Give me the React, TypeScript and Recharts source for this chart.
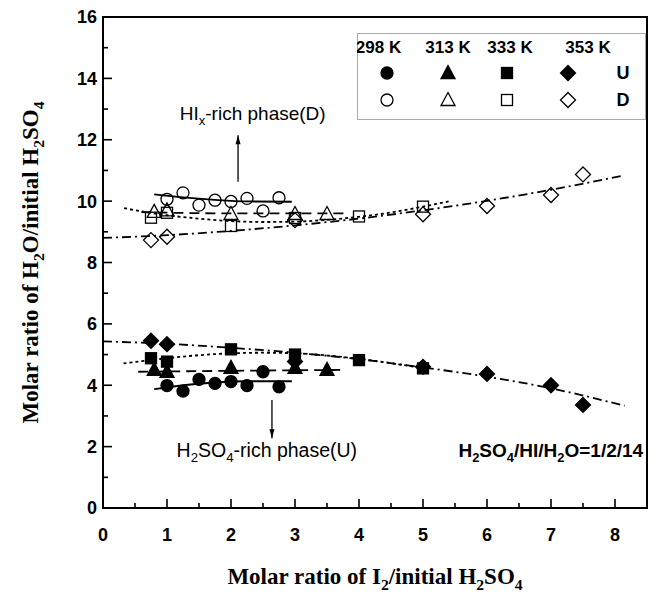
import React from "react";
import {
  ComposedChart,
  Line,
  Scatter,
  XAxis,
  YAxis,
  ReferenceArea,
  ReferenceDot,
  Legend,
} from "recharts";

// legend header
const temps = ["298 K", "313 K", "333 K", "353 K"];

// measured points (x = I2 / initial H2SO4)
const x298 = [1, 1.25, 1.5, 1.75, 2, 2.25, 2.5, 2.75];
const d298 = [10.06, 10.27, 9.87, 10.03, 9.99, 10.09, 9.68, 10.11];
const u298 = [3.99, 3.81, 4.19, 4.06, 4.12, 3.99, 4.44, 3.95];

const x313 = [0.8, 1, 2, 3, 3.5];
const d313 = [9.65, 9.7, 9.58, 9.58, 9.58];
const u313 = [4.5, 4.44, 4.57, 4.57, 4.5];

const x333 = [0.75, 1, 2, 3, 4, 5];
const d333 = [9.46, 9.62, 9.19, 9.45, 9.5, 9.82];
const u333 = [4.88, 4.77, 5.17, 5.0, 4.82, 4.55];

const x353 = [0.75, 1, 3, 5, 6, 7, 7.5];
const d353 = [8.73, 8.84, 9.38, 9.57, 9.84, 10.2, 10.87];
const u353 = [5.45, 5.34, 4.77, 4.6, 4.37, 4.0, 3.36];

// fitted curves
const fx298 = [0.8, 1.25, 1.75, 2.25, 2.95];
const fd298 = [10.22, 10.12, 10.04, 9.99, 9.98];
const fu298 = [3.87, 4.0, 4.09, 4.13, 4.13];

const fxd313 = [0.6, 2, 3.8];
const fd313 = [9.64, 9.6, 9.6];
const fxu313 = [0.55, 2, 3.8];
const fu313 = [4.44, 4.47, 4.5];

const fxd333 = [0.33, 1, 1.5, 2, 2.5, 3, 3.5, 4, 4.5, 5, 5.4];
const fd333 = [9.77, 9.54, 9.43, 9.35, 9.32, 9.33, 9.39, 9.49, 9.63, 9.82, 9.99];
const fxu333 = [0.32, 1, 1.5, 2, 2.5, 3, 3.5, 4, 4.5, 5];
const fu333 = [4.71, 4.88, 4.98, 5.04, 5.06, 5.04, 4.97, 4.86, 4.72, 4.55];

const fx353 = [0, 1, 2, 3, 4, 5, 6, 7, 8.15];
const fd353 = [8.8, 8.89, 9.03, 9.21, 9.43, 9.7, 10.01, 10.37, 10.84];
const fu353 = [5.43, 5.35, 5.22, 5.06, 4.85, 4.58, 4.28, 3.9, 3.33];

// annotation arrows
const arrowDX = [2.11, 2.11];
const arrowDY = [10.63, 12.15];
const arrowUX = [2.64, 2.64];
const arrowUY = [3.52, 2.27];

const xTicks = [0, 0.5, 1, 1.5, 2, 2.5, 3, 3.5, 4, 4.5, 5, 5.5, 6, 6.5, 7, 7.5, 8, 8.5];
const yTicks = [0, 1, 2, 3, 4, 5, 6, 7, 8, 9, 10, 11, 12, 13, 14, 15, 16];

const pts = (xs: number[], ys: number[]) => xs.map((x, i) => ({ x, y: ys[i] }));

const SANS = "'Liberation Sans', Arial, sans-serif";
const SERIF = "'Liberation Serif', 'Times New Roman', serif";
const TM = 6;

type Kind = "circle" | "triangle" | "square" | "diamond";
const kinds: Kind[] = ["circle", "triangle", "square", "diamond"];

const Marker = ({ cx, cy, kind, filled }: { cx: number; cy: number; kind: Kind; filled: boolean }) => {
  const fill = filled ? "#000" : "none";
  const sw = 1.3;
  if (kind === "circle") return <circle cx={cx} cy={cy} r={6} fill={fill} stroke="#000" strokeWidth={sw} />;
  if (kind === "triangle")
    return (
      <polygon
        points={`${cx},${cy - 7.5} ${cx + 7},${cy + 5.5} ${cx - 7},${cy + 5.5}`}
        fill={fill}
        stroke="#000"
        strokeWidth={sw}
      />
    );
  if (kind === "square")
    return <rect x={cx - 5.5} y={cy - 5.5} width={11} height={11} fill={fill} stroke="#000" strokeWidth={sw} />;
  return (
    <polygon
      points={`${cx},${cy - 7.5} ${cx + 7.5},${cy} ${cx},${cy + 7.5} ${cx - 7.5},${cy}`}
      fill={fill}
      stroke="#000"
      strokeWidth={sw}
    />
  );
};

// text with subscripts: [text, isSub]
type Part = [string, boolean?];
const Rich = ({ parts, size, shift }: { parts: Part[]; size: number; shift: number }) => {
  let prevSub = false;
  return (
    <>
      {parts.map(([t, sub], i) => {
        let dy = 0;
        if (sub && !prevSub) dy = shift;
        if (!sub && prevSub) dy = -shift;
        prevSub = !!sub;
        return (
          <tspan key={i} dy={dy} fontSize={sub ? size * 0.68 : size}>
            {t}
          </tspan>
        );
      })}
    </>
  );
};

const xTitle: Part[] = [["Molar ratio of I"], ["2", true], ["/initial H"], ["2", true], ["SO"], ["4", true]];
const yTitle: Part[] = [["Molar ratio of H"], ["2", true], ["O/initial H"], ["2", true], ["SO"], ["4", true]];
const noteD: Part[] = [["HI"], ["x", true], ["-rich phase(D)"]];
const noteU: Part[] = [["H"], ["2", true], ["SO"], ["4", true], ["-rich phase(U)"]];
const noteR: Part[] = [["H"], ["2", true], ["SO"], ["4", true], ["/HI/H"], ["2", true], ["O=1/2/14"]];

const YTick = (props: any) => {
  const { x, y, payload } = props;
  const v = payload.value as number;
  const major = v % 2 === 0;
  const ax = x + TM;
  return (
    <g>
      <line x1={ax} x2={ax + (major ? 9 : 5)} y1={y} y2={y} stroke="#000" strokeWidth={1.6} />
      {major && (
        <text x={x} y={y} dy="0.36em" textAnchor="end" fontFamily={SANS} fontWeight="bold" fontSize={18} fill="#000">
          {v}
        </text>
      )}
    </g>
  );
};

const XTick = (props: any) => {
  const { x, y, payload } = props;
  const v = payload.value as number;
  const major = Number.isInteger(v);
  const ay = y - TM;
  if (v > 8) return <g />;
  return (
    <g>
      <line x1={x} x2={x} y1={ay} y2={ay - (major ? 9 : 5)} stroke="#000" strokeWidth={1.6} />
      {major && (
        <text x={x} y={ay + 27} dy="0.36em" textAnchor="middle" fontFamily={SANS} fontWeight="bold" fontSize={18} fill="#000">
          {v}
        </text>
      )}
    </g>
  );
};

const XTitle = (p: any) => {
  const vb = p.viewBox || { x: 103, y: 508, width: 544, height: 80 };
  return (
    <text x={vb.x + vb.width / 2} y={vb.y + 76} textAnchor="middle" fontFamily={SERIF} fontWeight="bold" fill="#000">
      <Rich parts={xTitle} size={23} shift={6} />
    </text>
  );
};

const YTitle = (p: any) => {
  const vb = p.viewBox || { x: 5, y: 17, width: 98, height: 491 };
  const cx = vb.x + 33;
  const cy = vb.y + vb.height / 2;
  return (
    <text
      x={cx}
      y={cy}
      textAnchor="middle"
      transform={`rotate(-90, ${cx}, ${cy})`}
      fontFamily={SERIF}
      fontWeight="bold"
      fill="#000"
    >
      <Rich parts={yTitle} size={23} shift={6} />
    </text>
  );
};

const headX = [21.5, 91, 153, 231];
const symX = [30, 91, 150, 211];

const LegendBox = () => (
  <svg width={290} height={88} style={{ display: "block" }}>
    <rect x={0.5} y={0.5} width={288} height={86} fill="#fff" stroke="#555" strokeWidth={1} strokeDasharray="1 1" />
    {temps.map((t, i) => (
      <text key={t} x={headX[i]} y={14} dy="0.36em" textAnchor="middle" fontFamily={SANS} fontWeight="bold" fontSize={17}>
        {t}
      </text>
    ))}
    {kinds.map((k, i) => (
      <Marker key={"u" + k} cx={symX[i]} cy={40} kind={k} filled />
    ))}
    {kinds.map((k, i) => (
      <Marker key={"d" + k} cx={symX[i]} cy={67} kind={k} filled={false} />
    ))}
    <text x={266} y={40} dy="0.36em" textAnchor="middle" fontFamily={SANS} fontWeight="bold" fontSize={18}>
      U
    </text>
    <text x={266} y={67} dy="0.36em" textAnchor="middle" fontFamily={SANS} fontWeight="bold" fontSize={18}>
      D
    </text>
  </svg>
);

const note = (parts: Part[], anchor: "middle" | "end", size: number, weight: string) => (p: any) =>
  (
    <text x={p.cx} y={p.cy} dy="0.36em" textAnchor={anchor} fontFamily={SANS} fontWeight={weight} fill="#000">
      <Rich parts={parts} size={size} shift={5} />
    </text>
  );

const arrowHead = (up: boolean) => (p: any) => {
  if (p.index !== 1) return <g key={p.key ?? "a" + p.index} />;
  const { cx, cy } = p;
  const s = up ? 1 : -1;
  return (
    <polygon
      key={p.key ?? "a" + p.index}
      points={`${cx},${cy} ${cx + 2.5},${cy + s * 9} ${cx - 2.5},${cy + s * 9}`}
      fill="#000"
    />
  );
};

const markerSeries = [
  { name: "d298", data: pts(x298, d298), kind: "circle" as Kind, filled: false },
  { name: "u298", data: pts(x298, u298), kind: "circle" as Kind, filled: true },
  { name: "d313", data: pts(x313, d313), kind: "triangle" as Kind, filled: false },
  { name: "u313", data: pts(x313, u313), kind: "triangle" as Kind, filled: true },
  { name: "d333", data: pts(x333, d333), kind: "square" as Kind, filled: false },
  { name: "u333", data: pts(x333, u333), kind: "square" as Kind, filled: true },
  { name: "d353", data: pts(x353, d353), kind: "diamond" as Kind, filled: false },
  { name: "u353", data: pts(x353, u353), kind: "diamond" as Kind, filled: true },
];

const fitSeries = [
  { name: "fd298", data: pts(fx298, fd298), dash: undefined },
  { name: "fu298", data: pts(fx298, fu298), dash: undefined },
  { name: "fd313", data: pts(fxd313, fd313), dash: "10 6" },
  { name: "fu313", data: pts(fxu313, fu313), dash: "10 6" },
  { name: "fd333", data: pts(fxd333, fd333), dash: "3 3" },
  { name: "fu333", data: pts(fxu333, fu333), dash: "3 3" },
  { name: "fd353", data: pts(fx353, fd353), dash: "9 4 2 4" },
  { name: "fu353", data: pts(fx353, fu353), dash: "9 4 2 4" },
];

export default function App() {
  return (
    <div style={{ position: "absolute", left: 0, top: 0, background: "#fff" }}>
      <ComposedChart width={659} height={599} margin={{ top: 17, right: 12, bottom: 11, left: 5 }}>
        <XAxis
          type="number"
          dataKey="x"
          domain={[0, 8.5]}
          ticks={xTicks}
          interval={0}
          tickSize={0}
          tickMargin={TM}
          tick={<XTick />}
          axisLine={{ stroke: "#000", strokeWidth: 2 }}
          height={80}
          label={(p: any) => <XTitle {...p} />}
        />
        <YAxis
          type="number"
          dataKey="y"
          domain={[0, 16]}
          ticks={yTicks}
          interval={0}
          tickSize={0}
          tickMargin={TM}
          tick={<YTick />}
          axisLine={{ stroke: "#000", strokeWidth: 2 }}
          width={98}
          label={(p: any) => <YTitle {...p} />}
        />
        <ReferenceArea x1={0} x2={8.5} y1={0} y2={16} fill="none" stroke="#000" strokeWidth={2} />
        {fitSeries.map((s) => (
          <Line
            key={s.name}
            data={s.data}
            dataKey="y"
            type="monotone"
            stroke="#000"
            strokeWidth={1.8}
            strokeDasharray={s.dash}
            dot={false}
            activeDot={false}
            isAnimationActive={false}
          />
        ))}
        <Line
          data={pts(arrowDX, arrowDY)}
          dataKey="y"
          type="linear"
          stroke="#000"
          strokeWidth={1.3}
          dot={arrowHead(true)}
          activeDot={false}
          isAnimationActive={false}
        />
        <Line
          data={pts(arrowUX, arrowUY)}
          dataKey="y"
          type="linear"
          stroke="#000"
          strokeWidth={1.3}
          dot={arrowHead(false)}
          activeDot={false}
          isAnimationActive={false}
        />
        {markerSeries.map((s) => (
          <Scatter
            key={s.name}
            data={s.data}
            dataKey="y"
            isAnimationActive={false}
            shape={(p: any) => <Marker cx={p.cx} cy={p.cy} kind={s.kind} filled={s.filled} />}
          />
        ))}
        <ReferenceDot x={2.34} y={12.64} r={0} shape={note(noteD, "middle", 19, "normal")} />
        <ReferenceDot x={2.56} y={1.66} r={0} shape={note(noteU, "middle", 19.5, "normal")} />
        <ReferenceDot x={8.44} y={1.66} r={0} shape={note(noteR, "end", 19, "bold")} />
        <Legend
          layout="horizontal"
          verticalAlign="middle"
          align="center"
          wrapperStyle={{ left: 357, top: 33, width: 290, height: 88 }}
          content={() => <LegendBox />}
        />
      </ComposedChart>
    </div>
  );
}
